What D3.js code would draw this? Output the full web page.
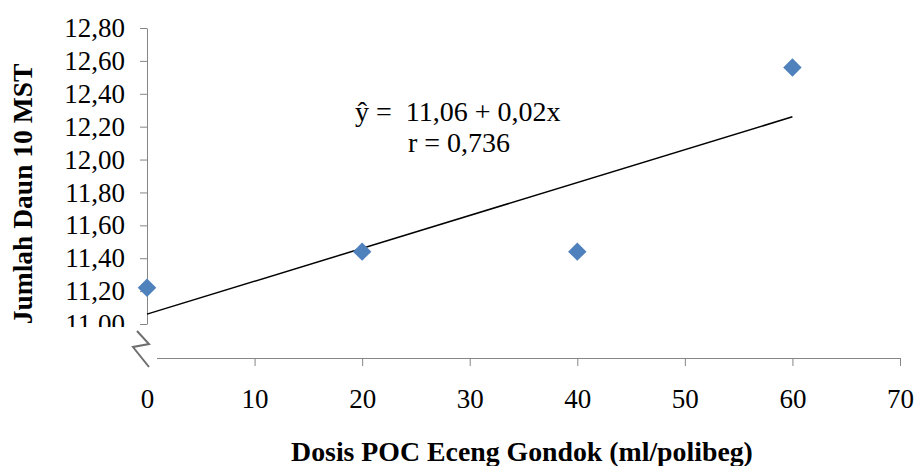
<!DOCTYPE html>
<html lang="en">
<head>
    <meta charset="UTF-8">
    <title>Jumlah Daun 10 MST</title>
    <script src="https://d3js.org/d3.v7.min.js"></script>
    <style>
        body {margin: 0; background: white;}
        text {font-family: "Liberation Serif", "Times New Roman", serif; fill: black;}
    </style>
</head>
<body>
<div id="chart"></div>
<script>
// Data
var dosis = [0, 20, 40, 60];
var daun = [11.22, 11.44, 11.44, 12.56];
var yTicks = [11.0, 11.2, 11.4, 11.6, 11.8, 12.0, 12.2, 12.4, 12.6, 12.8];
var xTicks = [0, 10, 20, 30, 40, 50, 60, 70];
// regression y = a + b x
var intercept = 11.06;
var slope = 0.02;

var width = 917, height = 466;
var axisColor = "#868686";

var svg = d3.select("#chart").append("svg")
    .attr("width", width)
    .attr("height", height);

// Scales
var xScale = d3.scaleLinear().domain([0, 70]).range([147, 900]);
var yScale = d3.scaleLinear().domain([11, 12.8]).range([324, 28]);
var xAxisY = 358;

function comma(d, n) {
    return d.toFixed(n).replace(".", ",");
}

// Y axis
var yAxis = d3.axisLeft(yScale)
    .tickValues(yTicks)
    .tickSize(7)
    .tickSizeOuter(0)
    .tickPadding(15)
    .tickFormat(function(d){ return comma(d, 2); });

var gy = svg.append("g")
    .attr("transform", "translate(" + xScale(0) + ",0)")
    .call(yAxis);
gy.select(".domain").attr("stroke", axisColor);
gy.selectAll(".tick line").attr("stroke", axisColor);
gy.selectAll(".tick text")
    .attr("font-size", "27px")
    .attr("font-family", "Liberation Serif")
    .attr("fill", "black");

// X axis
var xAxis = d3.axisBottom(xScale)
    .tickValues(xTicks)
    .tickSize(8)
    .tickSizeOuter(0)
    .tickFormat(function(d){ return d; });

var gx = svg.append("g")
    .attr("transform", "translate(0," + xAxisY + ")")
    .call(xAxis);
gx.select(".domain").attr("d", "M157,0.5H" + xScale(70));
gx.select(".domain").attr("stroke", axisColor);
gx.selectAll(".tick line").attr("stroke", axisColor);
gx.selectAll(".tick").filter(function(d){ return d === 0; }).select("line").remove();
gx.selectAll(".tick text")
    .attr("y", 50)
    .attr("dy", null)
    .attr("font-size", "27px")
    .attr("font-family", "Liberation Serif")
    .attr("fill", "black");

// Axis break: white band and zigzag
svg.append("rect")
    .attr("x", 60).attr("y", 327)
    .attr("width", 96).attr("height", 22)
    .attr("fill", "white");
svg.append("path")
    .attr("d", "M137,331 L149,344 L133,347 L149,367")
    .attr("fill", "none")
    .attr("stroke", "#4a4a4a")
    .attr("stroke-width", 2)
    .attr("opacity", 0.8);

// Regression line from 0 to 60
svg.append("line")
    .attr("x1", xScale(0))
    .attr("y1", yScale(intercept + slope * 0))
    .attr("x2", xScale(60))
    .attr("y2", yScale(intercept + slope * 60))
    .attr("stroke", "black")
    .attr("stroke-width", 1.5);

// Data points (diamonds)
var diamond = d3.symbol().type(d3.symbolSquare).size(170);
svg.selectAll(".pt")
    .data(dosis)
    .enter()
    .append("path")
        .attr("class", "pt")
        .attr("d", diamond)
        .attr("transform", function(d, i){
            return "translate(" + xScale(d) + "," + yScale(daun[i]) + ") rotate(45)";
        })
        .attr("fill", "#4f81bd");

// Equation
svg.append("text")
    .attr("x", 355).attr("y", 121)
    .attr("font-size", "28px")
    .style("white-space", "pre")
    .text("\u0177 =  " + comma(intercept, 2) + " + " + comma(slope, 2) + "x");
svg.append("text")
    .attr("x", 408).attr("y", 152)
    .attr("font-size", "28px")
    .text("r = 0,736");

// Axis titles
svg.append("text")
    .attr("x", 522).attr("y", 461)
    .attr("text-anchor", "middle")
    .attr("font-size", "27.8px")
    .attr("font-weight", "bold")
    .text("Dosis POC Eceng Gondok (ml/polibeg)");

svg.append("text")
    .attr("transform", "translate(32,194) rotate(-90)")
    .attr("text-anchor", "middle")
    .attr("font-size", "27.5px")
    .attr("font-weight", "bold")
    .text("Jumlah Daun 10 MST");
</script>
</body>
</html>
